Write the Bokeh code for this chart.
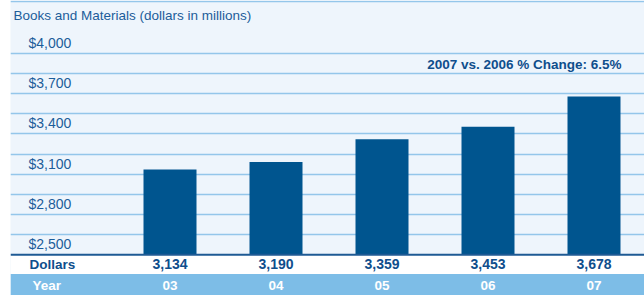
from bokeh.plotting import figure
from bokeh.models import FixedTicker, Span
from bokeh.core.properties import value
from bokeh.embed import file_html
from bokeh.resources import INLINE

# ---- data ----
years = ["03", "04", "05", "06", "07"]
dollars = [3134, 3190, 3359, 3453, 3678]
tick_values = [2500, 2800, 3100, 3400, 3700, 4000]
grid_values = [2650, 2800, 2950, 3100, 3250, 3400, 3550, 3700, 3850, 4000]
title_text = "Books and Materials  (dollars in millions)"
note_text = "2007 vs. 2006 % Change: 6.5%"
row_labels = ["Dollars", "Year"]

# ---- styling / layout ----
FONT = value("Liberation Sans")
BG = "#EEF5FC"
GRID = "#94C6EA"
BAR = "#00558F"
TXT = "#1C5D9A"
BOLD_TXT = "#0F4E8C"
BAND = "#7DBDE7"
AXIS = "#1E5A94"

W, H = 644, 295
LEFT = 10
X0, X1 = -1.5047, 4.4764
Y0, Y1 = 2197.2, 4392.1
BASE = 2500
ky = H / (Y1 - Y0)            # px per y unit
kx = (W - LEFT) / (X1 - X0)   # px per x unit
SHIFT = 5.5                   # text baseline correction, px

def dy(px):
    return px / ky

def dx(px):
    return px / kx

def ty(y, px_up):
    return y + dy(px_up + SHIFT)

p = figure(width=W, height=H, x_range=(X0, X1), y_range=(Y0, Y1),
           output_backend="svg", toolbar_location=None,
           x_axis_location=None, y_axis_location=None,
           min_border_left=LEFT, min_border_right=0,
           min_border_top=0, min_border_bottom=0)
p.background_fill_color = BG
p.border_fill_color = "white"
p.outline_line_color = None
p.xgrid.visible = False
p.ygrid.ticker = FixedTicker(ticks=grid_values)
p.ygrid.grid_line_color = GRID
p.ygrid.grid_line_width = 1.5

# top border line
p.add_layout(Span(location=Y1 - dy(1), dimension="width", line_color=GRID, line_width=1.5))

# table rows below the baseline
band_top = BASE - dy(19.2)
p.quad(left=X0, right=X1, top=BASE, bottom=band_top, fill_color="white", line_color=None)
p.quad(left=X0, right=X1, top=band_top, bottom=Y0, fill_color=BAND, line_color=None)

# bars
xs = list(range(len(years)))
p.vbar(x=xs, top=dollars, bottom=BASE, width=0.5, fill_color=BAR, line_color=None)

# baseline
p.add_layout(Span(location=BASE, dimension="width", line_color=AXIS, line_width=2))

# y tick labels
p.text(x=[X0 + dx(18)] * len(tick_values), y=[ty(t, 5) for t in tick_values],
       text=[f"${t:,}" for t in tick_values], text_font=FONT, text_font_size="14px",
       text_color=TXT, text_baseline="alphabetic", text_align="left")

# title
p.text(x=[X0 + dx(3)], y=[ty(Y1, -20.5)], text=[title_text], text_font=FONT,
       text_font_size="13.5px", text_color=TXT, text_baseline="alphabetic", text_align="left")

# note
p.text(x=[xs[-1] + 0.25 + dx(1)], y=[ty(3850, 3.4)], text=[note_text], text_font=FONT,
       text_font_size="13.5px", text_font_style="bold", text_color=BOLD_TXT,
       text_baseline="alphabetic", text_align="right")

# row labels
p.text(x=[X0 + dx(19)], y=[ty(BASE, -14.7)], text=[row_labels[0]], text_font=FONT,
       text_font_size="13.5px", text_font_style="bold", text_color=BOLD_TXT,
       text_baseline="alphabetic", text_align="left")
p.text(x=[X0 + dx(22)], y=[ty(BASE, -35.7)], text=[row_labels[1]], text_font=FONT,
       text_font_size="13.5px", text_font_style="bold", text_color="white",
       text_baseline="alphabetic", text_align="left")

# value and year labels
p.text(x=xs, y=[ty(BASE, -14.7)] * len(xs), text=[f"{v:,}" for v in dollars], text_font=FONT,
       text_font_size="14px", text_font_style="bold", text_color=BOLD_TXT,
       text_baseline="alphabetic", text_align="center")
p.text(x=xs, y=[ty(BASE, -35.7)] * len(xs), text=years, text_font=FONT,
       text_font_size="13.5px", text_font_style="bold", text_color="white",
       text_baseline="alphabetic", text_align="center")

open("out.html", "w").write(file_html(p, INLINE))
